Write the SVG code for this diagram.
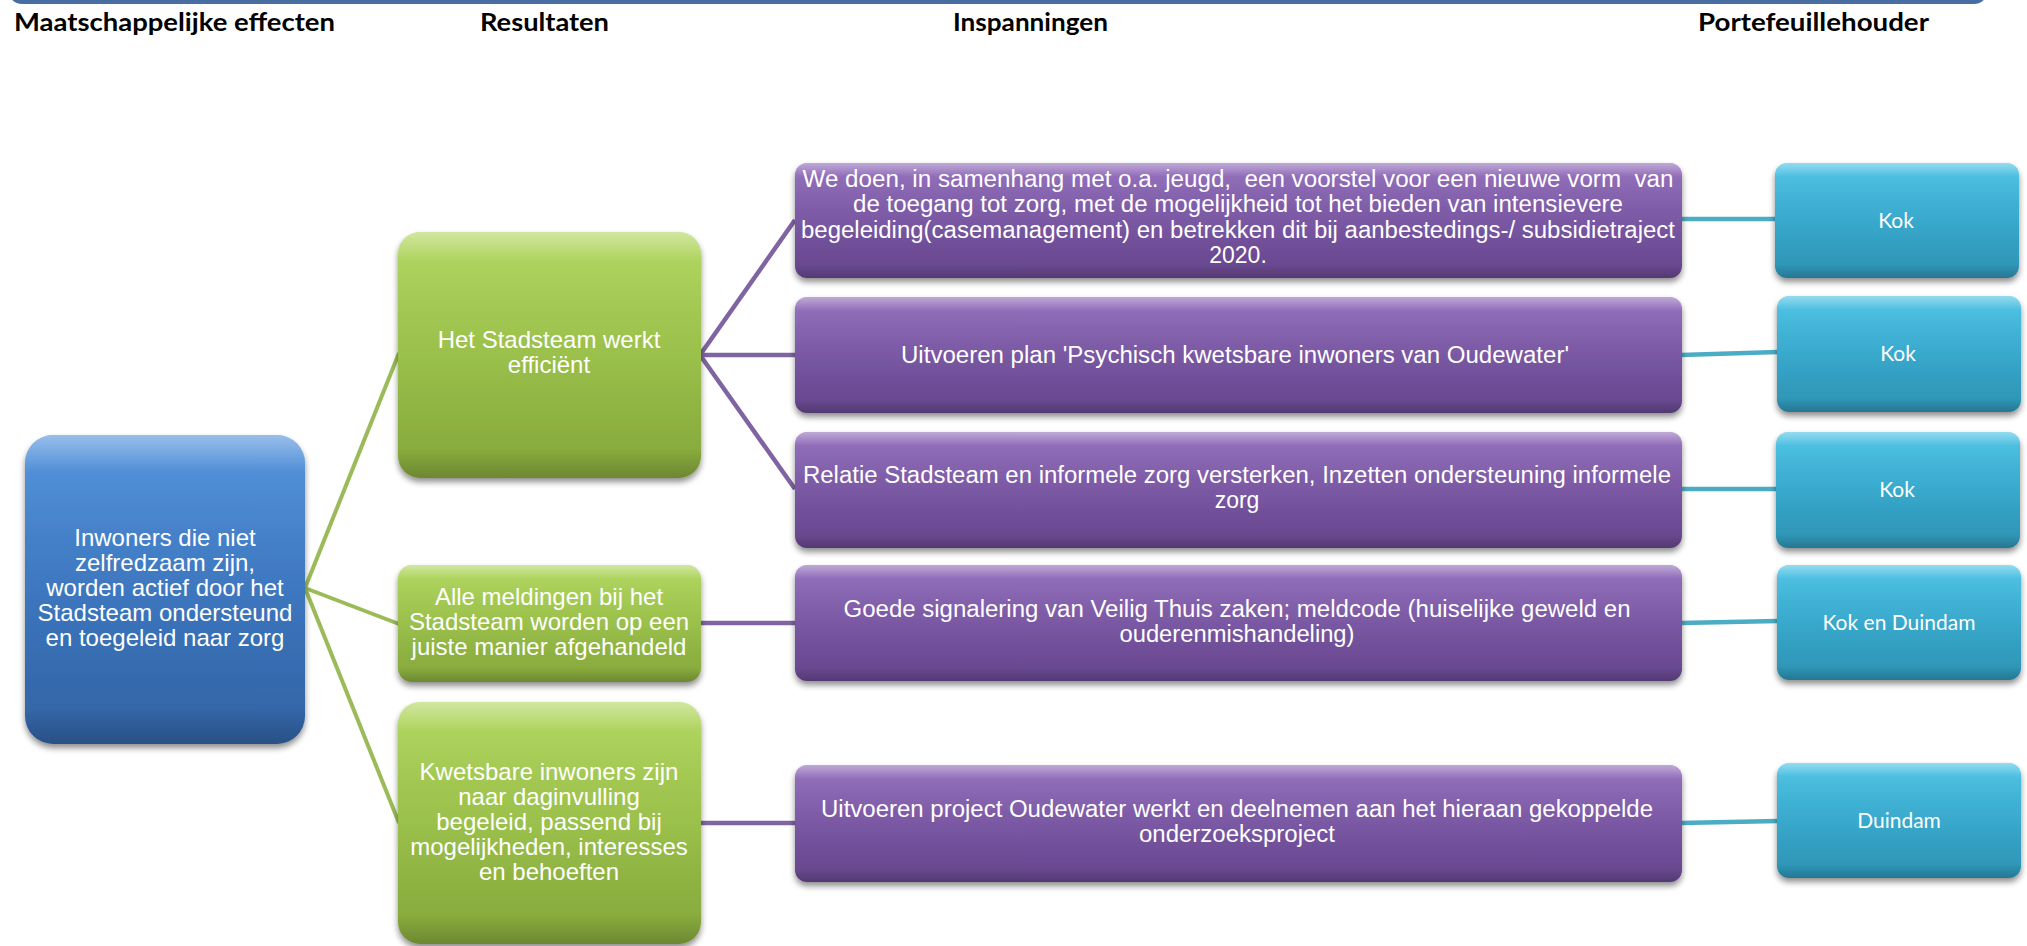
<svg xmlns="http://www.w3.org/2000/svg" width="2027" height="946" viewBox="0 0 2027 946">
<defs>
  <linearGradient id="gBlue" x1="0" y1="0" x2="0" y2="1">
    <stop offset="0" stop-color="#4489d9"/>
    <stop offset="0.5" stop-color="#3b77c2"/>
    <stop offset="1" stop-color="#3262a2"/>
  </linearGradient>
  <linearGradient id="gGreen" x1="0" y1="0" x2="0" y2="1">
    <stop offset="0" stop-color="#aad352"/>
    <stop offset="0.5" stop-color="#9cc349"/>
    <stop offset="1" stop-color="#84a53b"/>
  </linearGradient>
  <linearGradient id="gPurple" x1="0" y1="0" x2="0" y2="1">
    <stop offset="0" stop-color="#8b63b6"/>
    <stop offset="0.5" stop-color="#7a57a5"/>
    <stop offset="1" stop-color="#65458b"/>
  </linearGradient>
  <linearGradient id="gTeal" x1="0" y1="0" x2="0" y2="1">
    <stop offset="0" stop-color="#3ebee2"/>
    <stop offset="0.5" stop-color="#36abd0"/>
    <stop offset="1" stop-color="#2d91b1"/>
  </linearGradient>
  <linearGradient id="gHi" x1="0" y1="0" x2="0" y2="1">
    <stop offset="0" stop-color="#ffffff" stop-opacity="0.45"/>
    <stop offset="0.12" stop-color="#ffffff" stop-opacity="0.08"/>
    <stop offset="0.88" stop-color="#000000" stop-opacity="0"/>
    <stop offset="1" stop-color="#000000" stop-opacity="0.18"/>
  </linearGradient>
  <linearGradient id="gBar" x1="0" y1="0" x2="0" y2="1">
    <stop offset="0" stop-color="#2f5488"/>
    <stop offset="1" stop-color="#4a6fa3"/>
  </linearGradient>
  <filter id="sh" x="-10%" y="-10%" width="120%" height="130%">
    <feGaussianBlur in="SourceAlpha" stdDeviation="3"/>
    <feOffset dx="0" dy="4" result="b"/>
    <feComponentTransfer><feFuncA type="linear" slope="0.45"/></feComponentTransfer>
    <feMerge><feMergeNode/><feMergeNode in="SourceGraphic"/></feMerge>
  </filter>
</defs>
<style>
  .hdr { font-family: Lato, "Liberation Sans", sans-serif; font-weight: bold; font-size: 24px; fill: #000; }
  .t { font-family: "Liberation Sans", Arial, sans-serif; font-size: 24px; fill: #ffffff; text-anchor: middle; }
  .tp { font-family: "Liberation Sans", Arial, sans-serif; font-size: 23px; fill: #ffffff; text-anchor: middle; white-space: pre; }
  .tt { font-family: Lato, "Open Sans", sans-serif; font-size: 21px; fill: #ffffff; text-anchor: middle; }
  .cg { stroke: #9bbb59; stroke-width: 4; fill: none; }
  .cp { stroke: #8064a2; stroke-width: 4.5; fill: none; }
  .ct { stroke: #4bacc6; stroke-width: 4.5; fill: none; }
  .hi { fill: url(#gHi); }
</style>
<rect x="0" y="0" width="2027" height="946" fill="#ffffff"/>

<!-- top bar -->
<rect x="8" y="-30" width="1980" height="34" rx="14" fill="url(#gBar)"/>

<!-- headers -->
<g id="headers">
  <text class="hdr" x="14" y="31" textLength="321" lengthAdjust="spacingAndGlyphs">Maatschappelijke effecten</text>
  <text class="hdr" x="480" y="31" textLength="129" lengthAdjust="spacingAndGlyphs">Resultaten</text>
  <text class="hdr" x="953" y="31" textLength="155" lengthAdjust="spacingAndGlyphs">Inspanningen</text>
  <text class="hdr" x="1698" y="31" textLength="231" lengthAdjust="spacingAndGlyphs">Portefeuillehouder</text>
</g>

<!-- connectors -->
<g id="connectors">
  <line class="cg" x1="305" y1="588" x2="399" y2="353"/>
  <line class="cg" x1="305" y1="588" x2="399" y2="624"/>
  <line class="cg" x1="305" y1="588" x2="399" y2="823"/>
  <line class="cp" x1="700" y1="355" x2="795" y2="220"/>
  <line class="cp" x1="700" y1="355" x2="795" y2="355"/>
  <line class="cp" x1="700" y1="355" x2="795" y2="489"/>
  <line class="cp" x1="700" y1="623" x2="795" y2="623"/>
  <line class="cp" x1="700" y1="823" x2="795" y2="823"/>
  <line class="ct" x1="1681" y1="219" x2="1776" y2="219"/>
  <line class="ct" x1="1681" y1="355" x2="1778" y2="352"/>
  <line class="ct" x1="1681" y1="489" x2="1776" y2="489"/>
  <line class="ct" x1="1681" y1="623" x2="1778" y2="621"/>
  <line class="ct" x1="1681" y1="823" x2="1778" y2="821"/>
</g>

<!-- effect -->
<g id="effect">
  <rect x="25" y="435" width="280" height="309" rx="28" fill="url(#gBlue)" filter="url(#sh)"/>
  <rect x="25" y="435" width="280" height="309" rx="28" class="hi"/>
  <text class="t" x="165" y="546">Inwoners die niet</text>
  <text class="t" x="165" y="571">zelfredzaam zijn,</text>
  <text class="t" x="165" y="596">worden actief door het</text>
  <text class="t" x="165" y="621">Stadsteam ondersteund</text>
  <text class="t" x="165" y="646">en toegeleid naar zorg</text>
</g>

<!-- results -->
<g id="result1">
  <rect x="398" y="232" width="303" height="246" rx="22" fill="url(#gGreen)" filter="url(#sh)"/>
  <rect x="398" y="232" width="303" height="246" rx="22" class="hi"/>
  <text class="t" x="549" y="348">Het Stadsteam werkt</text>
  <text class="t" x="549" y="373">efficiënt</text>
</g>
<g id="result2">
  <rect x="398" y="565" width="303" height="117" rx="14" fill="url(#gGreen)" filter="url(#sh)"/>
  <rect x="398" y="565" width="303" height="117" rx="14" class="hi"/>
  <text class="t" x="549" y="605">Alle meldingen bij het</text>
  <text class="t" x="549" y="630">Stadsteam worden op een</text>
  <text class="t" x="549" y="655">juiste manier afgehandeld</text>
</g>
<g id="result3">
  <rect x="398" y="702" width="303" height="242" rx="22" fill="url(#gGreen)" filter="url(#sh)"/>
  <rect x="398" y="702" width="303" height="242" rx="22" class="hi"/>
  <text class="t" x="549" y="780">Kwetsbare inwoners zijn</text>
  <text class="t" x="549" y="805">naar daginvulling</text>
  <text class="t" x="549" y="830">begeleid, passend bij</text>
  <text class="t" x="549" y="855">mogelijkheden, interesses</text>
  <text class="t" x="549" y="880">en behoeften</text>
</g>

<!-- efforts -->
<g id="effort1">
  <rect x="795" y="163" width="887" height="115" rx="12" fill="url(#gPurple)" filter="url(#sh)"/>
  <rect x="795" y="163" width="887" height="115" rx="12" class="hi"/>
  <text class="tp" x="1238" y="187" textLength="871" lengthAdjust="spacingAndGlyphs" xml:space="preserve">We doen, in samenhang met o.a. jeugd,  een voorstel voor een nieuwe vorm  van</text>
  <text class="tp" x="1238" y="212" textLength="770" lengthAdjust="spacingAndGlyphs">de toegang tot zorg, met de mogelijkheid tot het bieden van intensievere</text>
  <text class="tp" x="1238" y="238" textLength="874" lengthAdjust="spacingAndGlyphs">begeleiding(casemanagement) en betrekken dit bij aanbestedings-/ subsidietraject</text>
  <text class="tp" x="1238" y="263">2020.</text>
</g>
<g id="effort2">
  <rect x="795" y="297" width="887" height="116" rx="12" fill="url(#gPurple)" filter="url(#sh)"/>
  <rect x="795" y="297" width="887" height="116" rx="12" class="hi"/>
  <text class="tp" x="1235" y="363" textLength="668" lengthAdjust="spacingAndGlyphs">Uitvoeren plan 'Psychisch kwetsbare inwoners van Oudewater'</text>
</g>
<g id="effort3">
  <rect x="795" y="432" width="887" height="116" rx="12" fill="url(#gPurple)" filter="url(#sh)"/>
  <rect x="795" y="432" width="887" height="116" rx="12" class="hi"/>
  <text class="tp" x="1237" y="483" textLength="868" lengthAdjust="spacingAndGlyphs">Relatie Stadsteam en informele zorg versterken, Inzetten ondersteuning informele</text>
  <text class="tp" x="1237" y="508">zorg</text>
</g>
<g id="effort4">
  <rect x="795" y="565" width="887" height="116" rx="12" fill="url(#gPurple)" filter="url(#sh)"/>
  <rect x="795" y="565" width="887" height="116" rx="12" class="hi"/>
  <text class="tp" x="1237" y="617" textLength="787" lengthAdjust="spacingAndGlyphs">Goede signalering van Veilig Thuis zaken; meldcode (huiselijke geweld en</text>
  <text class="tp" x="1237" y="642" textLength="235" lengthAdjust="spacingAndGlyphs">ouderenmishandeling)</text>
</g>
<g id="effort5">
  <rect x="795" y="765" width="887" height="117" rx="12" fill="url(#gPurple)" filter="url(#sh)"/>
  <rect x="795" y="765" width="887" height="117" rx="12" class="hi"/>
  <text class="tp" x="1237" y="817" textLength="832" lengthAdjust="spacingAndGlyphs">Uitvoeren project Oudewater werkt en deelnemen aan het hieraan gekoppelde</text>
  <text class="tp" x="1237" y="842" textLength="196" lengthAdjust="spacingAndGlyphs">onderzoeksproject</text>
</g>

<!-- portfolio holders -->
<g id="holder1">
  <rect x="1775" y="163" width="244" height="115" rx="12" fill="url(#gTeal)" filter="url(#sh)"/>
  <rect x="1775" y="163" width="244" height="115" rx="12" class="hi"/>
  <text class="tt" x="1896" y="228">Kok</text>
</g>
<g id="holder2">
  <rect x="1777" y="296" width="244" height="116" rx="12" fill="url(#gTeal)" filter="url(#sh)"/>
  <rect x="1777" y="296" width="244" height="116" rx="12" class="hi"/>
  <text class="tt" x="1898" y="361">Kok</text>
</g>
<g id="holder3">
  <rect x="1776" y="432" width="244" height="116" rx="12" fill="url(#gTeal)" filter="url(#sh)"/>
  <rect x="1776" y="432" width="244" height="116" rx="12" class="hi"/>
  <text class="tt" x="1897" y="497">Kok</text>
</g>
<g id="holder4">
  <rect x="1777" y="565" width="244" height="115" rx="12" fill="url(#gTeal)" filter="url(#sh)"/>
  <rect x="1777" y="565" width="244" height="115" rx="12" class="hi"/>
  <text class="tt" x="1899" y="630">Kok en Duindam</text>
</g>
<g id="holder5">
  <rect x="1777" y="763" width="244" height="115" rx="12" fill="url(#gTeal)" filter="url(#sh)"/>
  <rect x="1777" y="763" width="244" height="115" rx="12" class="hi"/>
  <text class="tt" x="1899" y="828">Duindam</text>
</g>
</svg>
